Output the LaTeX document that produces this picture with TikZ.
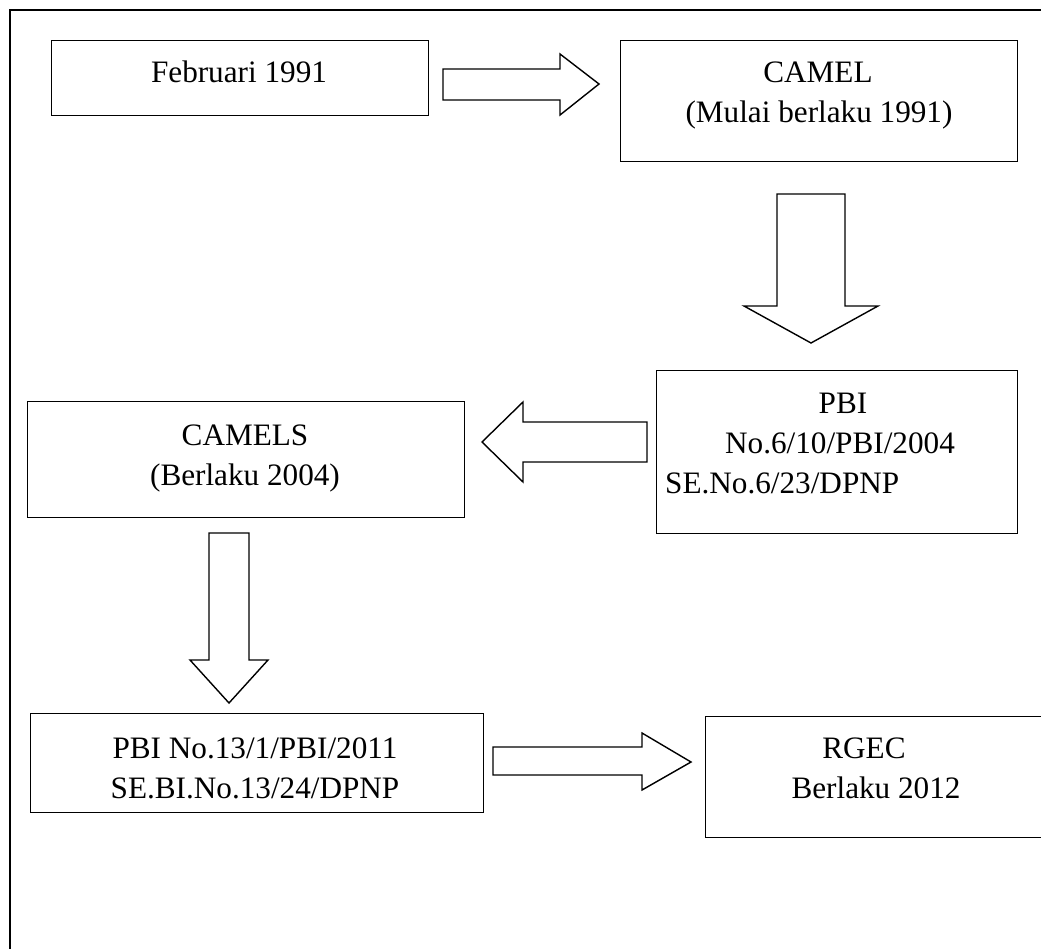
\documentclass[tikz,border=0pt]{standalone}
\usepackage{fontspec}
\setmainfont{Liberation Serif}
\begin{document}
\begin{tikzpicture}[x=1pt,y=-1pt,
  box/.style={draw, line width=1.4pt, anchor=north west, inner sep=0pt},
  txt/.style={anchor=base, inner sep=0pt, font=\fontsize{31.2}{36}\selectfont},
  blockarrow/.style={draw, line width=1.4pt, line join=miter, fill=white}]
\useasboundingbox (0,0) rectangle (1041,948);
% outer frame
\draw[line width=1.6pt] (1050,10) -- (10,10) -- (10,960);
% boxes
\node[box, minimum width=377pt, minimum height=75pt] (feb) at (51,40) {};
\node[box, minimum width=397pt, minimum height=121pt] (camel) at (620,40) {};
\node[box, minimum width=361pt, minimum height=163pt] (pbi) at (656,370) {};
\node[box, minimum width=437pt, minimum height=116pt] (camels) at (27,401) {};
\node[box, minimum width=453pt, minimum height=99pt] (pbi13) at (30,713) {};
\node[box, minimum width=360pt, minimum height=121pt] (rgec) at (705,716) {};
% texts
\node[txt] (t1) at (239,82) {Februari 1991};
\node[txt] (t2) at (818,82) {CAMEL};
\node[txt] (t3) at (819,122) {(Mulai berlaku 1991)};
\node[txt] (t4) at (843,413) {PBI};
\node[txt] (t5) at (840,453) {No.6/10/PBI/2004};
\node[txt, anchor=base west] (t6) at (665,493) {SE.No.6/23/DPNP};
\node[txt] (t7) at (245,445) {CAMELS};
\node[txt] (t8) at (245,485) {(Berlaku 2004)};
\node[txt] (t9) at (255,758) {PBI No.13/1/PBI/2011};
\node[txt] (t10) at (255,798) {SE.BI.No.13/24/DPNP};
\node[txt] (t11) at (864,758) {RGEC};
\node[txt] (t12) at (876,798) {Berlaku 2012};
% block arrows
\draw[blockarrow] (443,69) -- (560,69) -- (560,54) -- (599,84) -- (560,115) -- (560,100) -- (443,100) -- cycle;
\draw[blockarrow] (777,194) -- (845,194) -- (845,306) -- (878,306) -- (811,343) -- (744,306) -- (777,306) -- cycle;
\draw[blockarrow] (647,422) -- (523,422) -- (523,402) -- (482,442) -- (523,482) -- (523,462) -- (647,462) -- cycle;
\draw[blockarrow] (209,533) -- (249,533) -- (249,660) -- (268,660) -- (229,703) -- (190,660) -- (209,660) -- cycle;
\draw[blockarrow] (493,747) -- (642,747) -- (642,733) -- (691,762) -- (642,790) -- (642,775) -- (493,775) -- cycle;
\end{tikzpicture}
\end{document}
